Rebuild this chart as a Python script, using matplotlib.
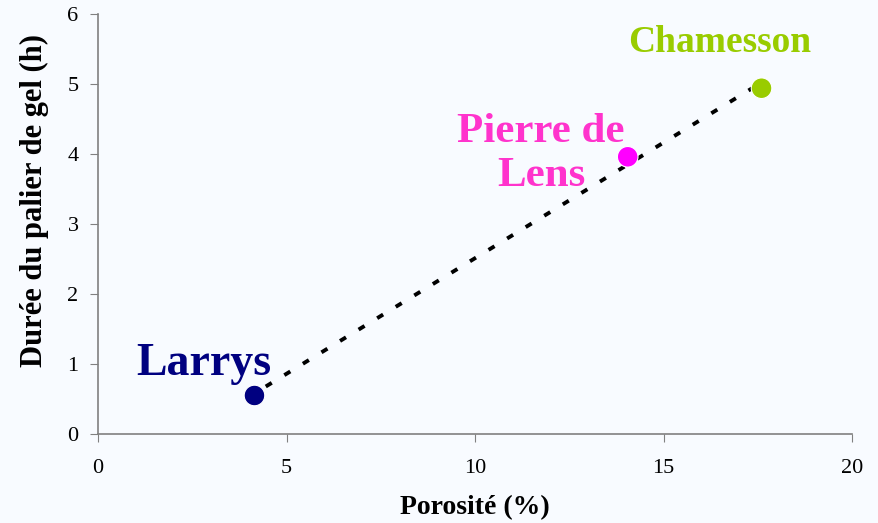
import matplotlib.pyplot as plt
import numpy as np

plt.rcParams['font.family'] = ['Liberation Serif', 'DejaVu Serif']

names = ["Larrys", "Pierre de\nLens", "Chamesson"]
porosite = [4.15, 14.05, 17.6]
duree = [0.55, 3.96, 4.94]
marker_colors = ["#000080", "#ff00ff", "#99cc00"]
text_colors = ["#000080", "#ff33cc", "#99cc00"]
label_xy = [(2.8, 1.0), (11.75, 4.0), (16.5, 5.59)]
label_sizes = [33, 31, 27]

bg = "#f8fbff"
fig = plt.figure(figsize=(8.79, 5.23), dpi=100, facecolor=bg)
ax = fig.add_axes([0.1115, 0.1702, 0.8578, 0.803])
ax.set_facecolor(bg)

# linear trend line
slope, inter = np.polyfit(porosite, duree, 1)
xs = np.array([4.45, 17.35])
ax.plot(xs, slope * xs + inter, color="black", lw=2.8, linestyle=(0, (1.8, 3.8)), zorder=2)

ax.scatter(porosite, duree, s=220, c=marker_colors, edgecolors="white", linewidths=0.8, zorder=3)

for name, (tx, ty), col, fs in zip(names, label_xy, text_colors, label_sizes):
    ax.text(tx, ty, name, color=col, fontsize=fs, fontweight="bold", ha="center", va="center",
            linespacing=1.2)

ax.set_xlim(0, 20)
ax.set_ylim(0, 6)
ax.set_xticks([0, 5, 10, 15, 20])
ax.set_yticks(range(7))
for s in ["top", "right"]:
    ax.spines[s].set_visible(False)
for s in ["left", "bottom"]:
    ax.spines[s].set_color("#808080")
    ax.spines[s].set_linewidth(1.2)
ax.tick_params(direction="out", length=6, color="#808080", labelsize=16, pad=12)
ax.tick_params(axis="y", pad=8)

ax.set_xlabel("Porosité (%)", fontsize=20, fontweight="bold", labelpad=12)
ax.set_ylabel("Durée du palier de gel (h)", fontsize=22, fontweight="bold")
ax.yaxis.set_label_coords(-0.065, 0.557)

plt.savefig("out.png", dpi=100, facecolor=bg)
